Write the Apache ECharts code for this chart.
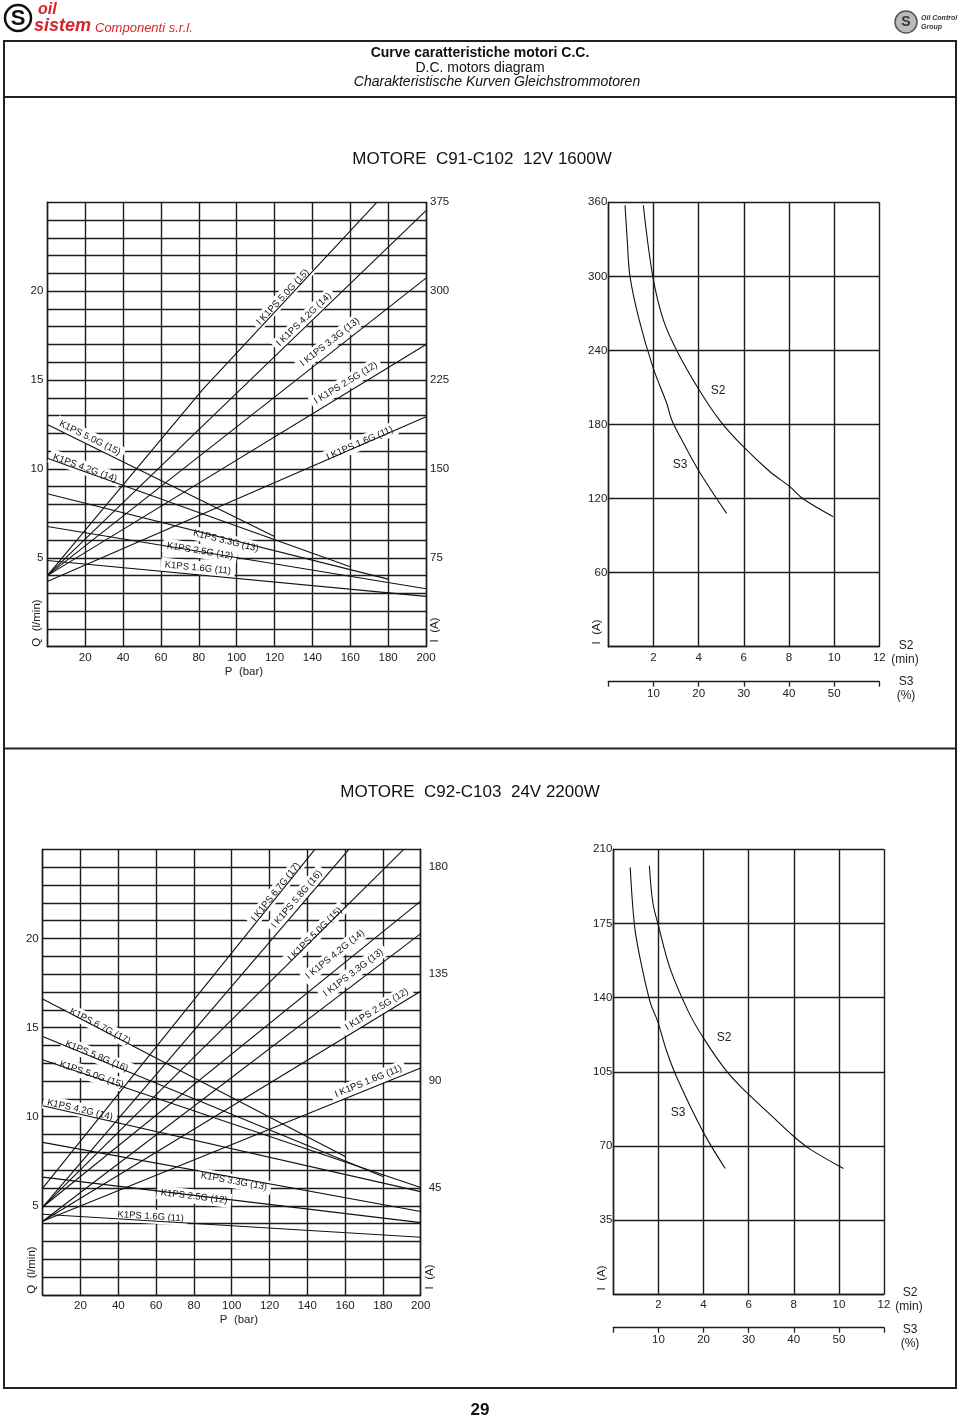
<!DOCTYPE html>
<html><head><meta charset="utf-8">
<script src="https://cdn.jsdelivr.net/npm/echarts/dist/echarts.min.js"></script>
<style>html,body{margin:0;padding:0;background:#fff}#c{width:960px;height:1417px}</style>
</head><body><div id="c"></div>
<script>
// ---------------- DATA ----------------
// Motor 1: C91-C102 12V 1600W  (flow Q l/min vs P bar ; current I A vs P bar)
const m1FlowNames = ['K1PS 5.0G (15)','K1PS 4.2G (14)','K1PS 3.3G (13)','K1PS 2.5G (12)','K1PS 1.6G (11)'];
const m1Flow50 = [[0,12.5],[120,6.2]];
const m1Flow42 = [[0,10.6],[160,4.5]];
const m1Flow33 = [[0,8.6],[180,3.8]];
const m1Flow25 = [[0,6.76],[200,3.26]];
const m1Flow16 = [[0,4.85],[200,2.83]];
const m1CurNames = ['I K1PS 5.0G (15)','I K1PS 4.2G (14)','I K1PS 3.3G (13)','I K1PS 2.5G (12)','I K1PS 1.6G (11)'];
const m1Cur50 = [[0,60],[82,217],[174,375]];
const m1Cur42 = [[0,60],[200,368]];
const m1Cur33 = [[0,60],[200,311]];
const m1Cur25 = [[0,60],[200,255]];
const m1Cur16 = [[0,55],[200,194]];
// duty curves: S2 (minutes) and S3 (% duty) vs current
const m1S2 = [[1.55,357.6],[1.97,300],[2.44,264.5],[3.03,240],[3.99,209],[4.95,183],[5.98,162],[7.16,141.7],[8.05,129.5],[8.64,119.6],[9.96,105.3]];
const m1S3 = [[3.7,357.6],[4.2,329],[4.8,300],[6.85,264.5],[9.85,226.7],[12.95,197],[14.05,183.6],[16.1,168.7],[19.95,143],[26.2,108]];
// label anchors (P, value) for the line captions
const m1FlowLabelAt = [[22.5,11.74],[19.9,10.05],[94.3,5.95],[80.6,5.38],[79.5,4.43]];
const m1CurLabelAt = [[124.4,295],[135.5,276],[149.2,257],[157.6,222.5],[165,171.6]];

// Motor 2: C92-C103 24V 2200W
const m2FlowNames = ['K1PS 6.7G (17)','K1PS 5.8G (16)','K1PS 5.0G (15)','K1PS 4.2G (14)','K1PS 3.3G (13)','K1PS 2.5G (12)','K1PS 1.6G (11)'];
const m2Flow67 = [[0,16.6],[160,7.77]];
const m2Flow58 = [[0,14.5],[180,6.65]];
const m2Flow50 = [[0,13.2],[200,6.03]];
const m2Flow42 = [[0,10.62],[200,5.8]];
const m2Flow33 = [[0,8.56],[200,4.68]];
const m2Flow25 = [[0,6.61],[200,4.06]];
const m2Flow16 = [[0,4.53],[200,3.24]];
const m2CurNames = ['I K1PS 6.7G (17)','I K1PS 5.8G (16)','I K1PS 5.0G (15)','I K1PS 4.2G (14)','I K1PS 3.3G (13)','I K1PS 2.5G (12)','I K1PS 1.6G (11)'];
const m2Cur67 = [[0,45],[144,187.5]];
const m2Cur58 = [[0,37],[162,187.5]];
const m2Cur50 = [[0,37],[191,187.5]];
const m2Cur42 = [[0,37],[200,165.7]];
const m2Cur33 = [[0,31],[200,152]];
const m2Cur25 = [[0,31],[200,127.8]];
const m2Cur16 = [[0,31],[200,95.5]];
const m2S2 = [[1.6,202.2],[1.75,185],[2.0,174],[2.52,153.7],[3.33,133.4],[4.0,120.9],[5.03,105.2],[6.0,94.3],[6.95,84.9],[7.98,74.7],[8.72,68.5],[10.2,59.4]];
const m2S3 = [[3.75,201.4],[4.7,174],[5.95,158.4],[8.15,138],[9.85,128.7],[11.85,114.6],[14.45,100.5],[20,76.3],[24.8,59.4]];
const m2FlowLabelAt = [[30.3,15.07],[28.6,13.39],[25.9,12.36],[19.7,10.39],[101.2,6.37],[80.1,5.52],[57.1,4.4]];
const m2CurLabelAt = [[123.3,169.5],[134.4,166.5],[144.1,151.7],[154.7,143.3],[164.3,135.6],[176.7,120.1],[172.3,89.9]];

// axis ranges / ticks
const pRange = [0,200,20];
const q1Range = [0,25,1], i1Range = [0,375,75];
const q2Range = [0,25,1], i2Range = [0,187.5,45];
const s2Range = [0,12,2], s3Range = [0,60,10];
const dutyI1 = [0,360,60], dutyI2 = [0,210,35];

// ---------------- CHART ----------------
const FONT = "'Liberation Sans', Arial, Helvetica, sans-serif";
const GRID_LS = {color:'#1c1c1c', width:1.4};
const chart = echarts.init(document.getElementById('c'), null, {renderer:'canvas', width:960, height:1417});

function xAx(grid, r, extra) {
  return Object.assign({
    type:'value', gridIndex:grid, min:r[0], max:r[1], interval:r[2],
    axisLine:{show:true, onZero:false, lineStyle:GRID_LS}, axisTick:{show:false},
    axisLabel:{fontSize:11.5, fontFamily:FONT, color:'#222', margin:5,
      formatter:v => (v===r[0] ? '' : String(v))},
    splitLine:{show:true, lineStyle:GRID_LS}
  }, extra||{});
}
function yAx(grid, r, pos, opts) {
  opts = opts||{};
  return {
    type:'value', gridIndex:grid, position:pos, min:r[0], max:r[1], interval:r[2],
    axisLine:{show:true, onZero:false, lineStyle:GRID_LS}, axisTick:{show:false},
    axisLabel:{fontSize:11.5, fontFamily:FONT, color:'#222', margin:opts.margin!=null?opts.margin:3,
      showMaxLabel:true, formatter:opts.fmt || (v => (v===r[0] ? '' : String(v)))},
    splitLine:{show:!!opts.split, lineStyle:GRID_LS}
  };
}

const s3Label = {fontSize:11.5, fontFamily:FONT, color:'#222', margin:6,
  formatter:v => (v===0||v===60 ? '' : String(v))};
const xAxis = [
  xAx(0, pRange),
  xAx(1, s2Range),
  xAx(1, s3Range, {position:'bottom', offset:35, splitLine:{show:false},
    axisTick:{show:true, length:5, lineStyle:{color:'#222', width:1.3}}, axisLabel:s3Label}),
  xAx(2, pRange),
  xAx(3, s2Range),
  xAx(3, s3Range, {position:'bottom', offset:33.4, splitLine:{show:false},
    axisTick:{show:true, length:5, lineStyle:{color:'#222', width:1.3}}, axisLabel:s3Label})
];
const qFmt = v => (v>0 && v<25 && v%5===0 ? String(v) : '');
const yAxis = [
  yAx(0, q1Range, 'left', {split:true, fmt:qFmt, margin:4}),
  yAx(0, i1Range, 'right', {margin:4}),
  yAx(1, dutyI1, 'left', {split:true, margin:1}),
  yAx(2, q2Range, 'left', {split:true, fmt:qFmt, margin:4}),
  yAx(2, i2Range, 'right', {margin:8, fmt:v => (v>0 && v%45===0 ? String(v) : '')}),
  yAx(3, dutyI2, 'left', {split:true, margin:1})
];

function ln(name, data, xi, yi, smooth) {
  return {type:'line', name, data, xAxisIndex:xi, yAxisIndex:yi, symbol:'none', smooth:smooth||false,
    lineStyle:{color:'#111', width:1.1}, z:5, silent:true, animation:false};
}
const m1FlowLines = [m1Flow50,m1Flow42,m1Flow33,m1Flow25,m1Flow16];
const m1CurLines = [m1Cur50,m1Cur42,m1Cur33,m1Cur25,m1Cur16];
const m2FlowLines = [m2Flow67,m2Flow58,m2Flow50,m2Flow42,m2Flow33,m2Flow25,m2Flow16];
const m2CurLines = [m2Cur67,m2Cur58,m2Cur50,m2Cur42,m2Cur33,m2Cur25,m2Cur16];

const series = [];
m1FlowLines.forEach((d,i)=>series.push(ln(m1FlowNames[i], d, 0, 0)));
m1CurLines.forEach((d,i)=>series.push(ln(m1CurNames[i], d, 0, 1)));
series.push(ln('S2', m1S2, 1, 2, 0.35));
series.push(ln('S3', m1S3, 2, 2, 0.35));
m2FlowLines.forEach((d,i)=>series.push(ln('m2 '+m2FlowNames[i], d, 3, 3)));
m2CurLines.forEach((d,i)=>series.push(ln('m2 '+m2CurNames[i], d, 3, 4)));
series.push(ln('S2 m2', m2S2, 4, 5, 0.35));
series.push(ln('S3 m2', m2S3, 5, 5, 0.35));

function T(x, y, text, o) {
  o = o||{};
  return {type:'text', x, y, rotation:o.rot||0, z:o.z||1, silent:true,
    style:{text, fontSize:o.size||11.5, fontFamily:FONT, fontWeight:o.weight||'normal',
      fontStyle:o.style||'normal', fill:o.color||'#222', align:o.align||'center', verticalAlign:'middle'}};
}
const RED = '#d8232a';
const staticGraphics = [
  // page frame
  {type:'rect', shape:{x:4, y:41, width:952, height:1347}, style:{fill:'none', stroke:'#222', lineWidth:2}, z:0, silent:true},
  {type:'line', shape:{x1:4, y1:97, x2:956, y2:97}, style:{stroke:'#222', lineWidth:2}, silent:true},
  {type:'line', shape:{x1:4, y1:748.5, x2:956, y2:748.5}, style:{stroke:'#222', lineWidth:2}, silent:true},
  // left logo
  {type:'circle', shape:{cx:18, cy:18, r:13}, style:{fill:'#fff', stroke:'#111', lineWidth:2.5}, silent:true},
  T(18, 19, 'S', {size:22, weight:'bold', color:'#111'}),
  T(38, 10, 'oil', {size:16, weight:'bold', style:'italic', color:RED, align:'left'}),
  T(34, 26, 'sistem', {size:18, weight:'bold', style:'italic', color:RED, align:'left'}),
  T(95, 28, 'Componenti s.r.l.', {size:13, style:'italic', color:RED, align:'left'}),
  // right logo
  {type:'circle', shape:{cx:906, cy:22, r:11}, style:{fill:'#bbb', stroke:'#555', lineWidth:1.5}, silent:true},
  T(906, 22, 'S', {size:14, weight:'bold', color:'#333'}),
  T(921, 18, 'Oil Control', {size:7, weight:'bold', style:'italic', color:'#333', align:'left'}),
  T(921, 27, 'Group', {size:7, weight:'bold', style:'italic', color:'#333', align:'left'}),
  // header titles
  T(480, 53, 'Curve caratteristiche motori C.C.', {size:14, weight:'bold', color:'#111'}),
  T(480, 68, 'D.C. motors diagram', {size:14, color:'#111'}),
  T(497, 82, 'Charakteristische Kurven Gleichstrommotoren', {size:14, style:'italic', color:'#111'}),
  T(482, 159, 'MOTORE  C91-C102  12V 1600W', {size:17, color:'#111'}),
  T(470, 792, 'MOTORE  C92-C103  24V 2200W', {size:17, color:'#111'}),
  T(480, 1410, '29', {size:17, weight:'bold', color:'#111'}),
  // axis names chart 1
  T(37, 623, 'Q  (l/min)', {rot:Math.PI/2}),
  T(435, 630, 'I  (A)', {rot:Math.PI/2}),
  T(244, 672, 'P  (bar)'),
  T(597, 632, 'I  (A)', {rot:Math.PI/2}),
  T(906, 646, 'S2', {size:12}), T(905, 660, '(min)', {size:12}),
  T(906, 682, 'S3', {size:12}), T(906, 696, '(%)', {size:12}),
  T(718, 391, 'S2', {size:12}), T(680, 465, 'S3', {size:12}),
  // axis names chart 2
  T(32, 1270, 'Q  (l/min)', {rot:Math.PI/2}),
  T(430, 1277, 'I  (A)', {rot:Math.PI/2}),
  T(239, 1320, 'P  (bar)'),
  T(602, 1278, 'I  (A)', {rot:Math.PI/2}),
  T(910, 1293, 'S2', {size:12}), T(909, 1307, '(min)', {size:12}),
  T(910, 1330, 'S3', {size:12}), T(910, 1344, '(%)', {size:12}),
  T(724, 1038, 'S2', {size:12}), T(678, 1113, 'S3', {size:12})
];

chart.setOption({
  animation:false,
  grid:[
    {left:47.3, top:202.3, width:378.7, height:444.4},
    {left:608.3, top:202.3, width:271, height:444.4},
    {left:42.7, top:849.3, width:378, height:445.7},
    {left:613.3, top:849.3, width:270.7, height:445}
  ],
  xAxis, yAxis, series,
  graphic:{elements:staticGraphics}
});

// rotated captions along lines, positioned via the chart's own scales
function angleAt(line, xi, yi, p) {
  let i = 0;
  while (i < line.length-2 && p > line[i+1][0]) i++;
  const a = chart.convertToPixel({xAxisIndex:xi, yAxisIndex:yi}, line[i]);
  const b = chart.convertToPixel({xAxisIndex:xi, yAxisIndex:yi}, line[i+1]);
  return Math.atan2(-(b[1]-a[1]), b[0]-a[0]);
}
const captions = [];
function addCaps(names, lines, anchors, xi, yi) {
  names.forEach((nm, i) => {
    const pt = chart.convertToPixel({xAxisIndex:xi, yAxisIndex:yi}, anchors[i]);
    const rot = angleAt(lines[i], xi, yi, anchors[i][0]);
    captions.push({type:'text', x:pt[0], y:pt[1], rotation:rot, z:3, silent:true,
      style:{text:nm, fontSize:9.5, fontFamily:FONT, fill:'#111', align:'center', verticalAlign:'middle',
        backgroundColor:'#fff', padding:[2,4]}});
  });
}
addCaps(m1FlowNames, m1FlowLines, m1FlowLabelAt, 0, 0);
addCaps(m1CurNames, m1CurLines, m1CurLabelAt, 0, 1);
addCaps(m2FlowNames, m2FlowLines, m2FlowLabelAt, 3, 3);
addCaps(m2CurNames, m2CurLines, m2CurLabelAt, 3, 4);
chart.setOption({graphic:{elements:staticGraphics.concat(captions)}}, {replaceMerge:['graphic']});
</script>
</body></html>
